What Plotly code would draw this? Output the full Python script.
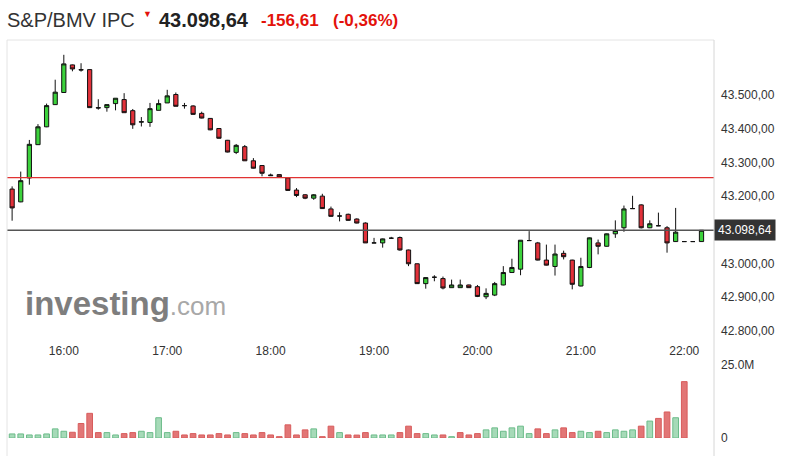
import plotly.graph_objects as go

DAY = "2024-01-15"
times = [
    "15:30", "15:35", "15:40", "15:45", "15:50", "15:55",
    "16:00", "16:05", "16:10", "16:15", "16:20", "16:25", "16:30", "16:35", "16:40", "16:45", "16:50", "16:55",
    "17:00", "17:05", "17:10", "17:15", "17:20", "17:25", "17:30", "17:35", "17:40", "17:45", "17:50", "17:55",
    "18:00", "18:05", "18:10", "18:15", "18:20", "18:25", "18:30", "18:35", "18:40", "18:45", "18:50", "18:55",
    "19:00", "19:05", "19:10", "19:15", "19:20", "19:25", "19:30", "19:35", "19:40", "19:45", "19:50", "19:55",
    "20:00", "20:05", "20:10", "20:15", "20:20", "20:25", "20:30", "20:35", "20:40", "20:45", "20:50", "20:55",
    "21:00", "21:05", "21:10", "21:15", "21:20", "21:25", "21:30", "21:35", "21:40", "21:45", "21:50", "21:55",
    "22:00", "22:05", "22:10",
]

open_ = [43221, 43183, 43254, 43353, 43406, 43472, 43508, 43590, 43576, 43576,
         43463, 43463, 43475, 43487, 43454, 43420, 43419, 43455, 43477, 43502,
         43469, 43468, 43446, 43431, 43401, 43366, 43330, 43347, 43305, 43291,
         43263, 43264, 43254, 43218, 43204, 43194, 43200, 43162, 43141, 43146,
         43132, 43120, 43061, 43061, 43075, 43077, 43040, 42999, 42940, 42959,
         42955, 42928, 42928, 42936, 42931, 42901, 42906, 42936, 42973, 42983,
         43068, 43061, 43010, 42991, 43030, 43010, 42933, 42988, 43061, 43051,
         43088, 43106, 43163, 43174, 43106, 43112, 43106, 43065, 43065, 43065,
         43065]
high = [43229, 43273, 43367, 43414, 43475, 43546, 43620, 43591, 43595, 43577,
        43488, 43472, 43491, 43506, 43459, 43435, 43477, 43487, 43516, 43508,
        43477, 43470, 43451, 43432, 43402, 43367, 43355, 43352, 43313, 43291,
        43267, 43265, 43256, 43224, 43206, 43206, 43207, 43169, 43152, 43148,
        43134, 43122, 43076, 43074, 43079, 43080, 43041, 43000, 42958, 42965,
        42961, 42952, 42952, 42937, 42936, 42926, 42945, 42992, 43014, 43069,
        43096, 43064, 43056, 43056, 43038, 43011, 43017, 43077, 43071, 43089,
        43128, 43172, 43201, 43176, 43128, 43151, 43111, 43165, 43065, 43065,
        43099]
low = [43127, 43182, 43234, 43352, 43405, 43471, 43507, 43571, 43570, 43463,
       43457, 43451, 43455, 43448, 43400, 43407, 43406, 43455, 43477, 43467,
       43460, 43442, 43431, 43396, 43371, 43330, 43325, 43305, 43282, 43259,
       43260, 43257, 43216, 43197, 43191, 43189, 43162, 43139, 43125, 43127,
       43119, 43061, 43061, 43047, 43073, 43038, 42992, 42939, 42925, 42947,
       42923, 42928, 42928, 42927, 42900, 42894, 42903, 42935, 42972, 42965,
       43068, 43009, 42994, 42964, 43012, 42923, 42932, 42986, 43027, 43050,
       43076, 43094, 43162, 43104, 43105, 43111, 43032, 43064, 43065, 43065,
       43065]
close = [43165, 43246, 43354, 43406, 43469, 43509, 43593, 43578, 43575, 43463,
         43462, 43472, 43491, 43448, 43412, 43421, 43460, 43475, 43498, 43467,
         43469, 43443, 43432, 43397, 43372, 43331, 43351, 43305, 43283, 43268,
         43261, 43257, 43217, 43202, 43194, 43204, 43163, 43140, 43141, 43128,
         43120, 43061, 43061, 43073, 43075, 43040, 42999, 42940, 42958, 42959,
         42927, 42936, 42936, 42928, 42902, 42911, 42940, 42973, 42988, 43069,
         43068, 43010, 42995, 43028, 43020, 42938, 42991, 43076, 43051, 43088,
         43098, 43162, 43163, 43106, 43118, 43112, 43061, 43093, 43065, 43065,
         43098.64]

# volume in millions (first 79 intervals)
volume_m = [1.39, 1.39, 1.04, 1.04, 1.39, 3.12, 2.31, 1.97, 4.97, 8.45,
            1.85, 1.85, 1.04, 1.50, 1.85, 2.31, 1.85, 6.94, 1.85, 2.31,
            1.04, 1.50, 1.04, 1.04, 1.50, 1.04, 1.85, 1.50, 1.04, 1.85,
            1.04, 0.46, 4.51, 1.04, 2.78, 3.12, 0.46, 4.05, 1.85, 1.04,
            1.00, 1.85, 1.04, 1.04, 1.04, 1.85, 4.05, 1.50, 1.50, 1.04,
            1.04, 0.46, 1.85, 1.04, 1.50, 2.78, 3.47, 2.31, 3.47, 4.05,
            1.50, 3.12, 1.50, 2.78, 3.47, 1.85, 2.31, 1.85, 2.31, 1.85,
            2.78, 2.31, 2.78, 4.05, 5.79, 6.71, 8.91, 6.94, 19.3]
volume_up = [1, 1, 1, 1, 1, 1, 1, 0, 0, 0,
             0, 1, 1, 0, 0, 1, 1, 1, 1, 0,
             0, 0, 0, 0, 0, 0, 1, 0, 0, 0,
             0, 0, 0, 0, 0, 1, 0, 0, 1, 0,
             0, 0, 1, 1, 1, 0, 0, 0, 1, 1,
             0, 1, 0, 0, 0, 1, 1, 1, 1, 1,
             1, 0, 0, 1, 0, 0, 1, 1, 0, 1,
             1, 1, 1, 0, 1, 0, 0, 1, 0]

price_ticks = [42800, 42900, 43000, 43200, 43300, 43400, 43500]
prev_close = 43255.25
last_price = 43098.64
title_name = "S&P/BMV IPC"
title_price = "43.098,64"
title_change = "-156,61"
title_pct = "(-0,36%)"

x = [f"{DAY} {t}" for t in times]
vol_x = x[:len(volume_m)]
vol_y = [v * 1e6 for v in volume_m]

W, H = 792, 456
L, R, T, B = 7, 78, 40, 18
PW, PH = W - L - R, H - T - B


def px_x(p):
    return (p - L) / PW


def px_y(p):
    return (H - B - p) / PH


FONT = "Arial, Liberation Sans, sans-serif"
GREEN = "#3cd23c"
RED = "#e2313a"

fig = go.Figure()
fig.add_trace(go.Candlestick(
    x=x, open=open_, high=high, low=low, close=close,
    increasing=dict(fillcolor=GREEN, line=dict(color="#111", width=1)),
    decreasing=dict(fillcolor=RED, line=dict(color="#111", width=1)),
    whiskerwidth=0, xaxis="x", yaxis="y", hoverinfo="skip",
))
fig.add_trace(go.Bar(
    x=vol_x, y=vol_y, xaxis="x", yaxis="y2",
    marker=dict(
        color=["#a6dab8" if u else "#e27676" for u in volume_up],
        line=dict(color=["#6cbc8a" if u else "#d85c5c" for u in volume_up], width=1),
    ),
    hoverinfo="skip",
))

shapes = [
    dict(type="line", xref="paper", yref="y", x0=0, x1=1, y0=prev_close, y1=prev_close,
         line=dict(color="rgb(225,50,50)", width=1.2)),
    dict(type="line", xref="paper", yref="y", x0=0, x1=1, y0=last_price, y1=last_price,
         line=dict(color="#555", width=1.5)),
    dict(type="line", xref="paper", yref="paper", x0=0, x1=0, y0=px_y(456), y1=1,
         line=dict(color="#e4e4e4", width=1)),
    dict(type="line", xref="paper", yref="paper", x0=0, x1=1, y0=1, y1=1,
         line=dict(color="#e4e4e4", width=1)),
    dict(type="line", xref="paper", yref="paper", x0=1, x1=1, y0=px_y(456), y1=1,
         line=dict(color="#d6d6d6", width=1)),
]

annotations = [
    dict(xref="paper", yref="paper", x=px_x(5), y=px_y(20), xanchor="left", yanchor="middle",
         text=title_name, showarrow=False, font=dict(family=FONT, size=20, color="#333")),
    dict(xref="paper", yref="paper", x=px_x(141), y=px_y(14), xanchor="left", yanchor="middle",
         text="▼", showarrow=False, font=dict(family=FONT, size=9, color="#e3120b")),
    dict(xref="paper", yref="paper", x=px_x(157), y=px_y(20), xanchor="left", yanchor="middle",
         text=f"<b>{title_price}</b>", showarrow=False, font=dict(family=FONT, size=20, color="#222")),
    dict(xref="paper", yref="paper", x=px_x(259), y=px_y(20), xanchor="left", yanchor="middle",
         text=f"<b>{title_change}</b>", showarrow=False, font=dict(family=FONT, size=17, color="#e3120b")),
    dict(xref="paper", yref="paper", x=px_x(331), y=px_y(20), xanchor="left", yanchor="middle",
         text=f"<b>{title_pct}</b>", showarrow=False, font=dict(family=FONT, size=17, color="#e3120b")),
    dict(xref="paper", yref="paper", x=px_x(23), y=px_y(303), xanchor="left", yanchor="middle",
         text='<b>investing</b><span style="font-size:26px;color:#a8a8a8">.com</span>',
         showarrow=False, font=dict(family=FONT, size=33, color="#7e7e7e")),
    dict(xref="paper", yref="y", x=1, y=last_price, xanchor="left", yanchor="middle",
         text=title_price, showarrow=False, bgcolor="#333", borderpad=3,
         font=dict(family=FONT, size=12, color="#fff")),
]

fig.update_layout(
    width=W, height=H,
    margin=dict(l=L, r=R, t=T, b=B, pad=0),
    paper_bgcolor="white", plot_bgcolor="white",
    showlegend=False,
    separators=",.",
    bargap=0.34,
    boxgap=0.3,
    hovermode=False,
    font=dict(family=FONT, size=12, color="#333"),
    xaxis=dict(
        type="date", domain=[0, 1], anchor="y",
        range=[f"{DAY} 15:27:02", f"{DAY} 22:17:15"],
        tickformat="%H:%M", dtick=3600000, tick0=f"{DAY} 16:00",
        showgrid=False, zeroline=False, showline=False, ticks="",
        ticklabelstandoff=2,
        rangeslider=dict(visible=False),
        tickfont=dict(family=FONT, size=12, color="#333"),
    ),
    yaxis=dict(
        domain=[px_y(340), 1], anchor="x", side="right",
        range=[42772.5, 43664],
        tickvals=price_ticks, tickformat=",.2f",
        showgrid=False, zeroline=False, showline=False, ticks="",
        ticklabelstandoff=6,
        tickfont=dict(family=FONT, size=12, color="#333"),
    ),
    yaxis2=dict(
        domain=[0, px_y(365)], anchor="x", side="right",
        range=[0, 25e6],
        tickvals=[0, 25e6], ticktext=["0", "25.0M"],
        showgrid=False, zeroline=False, showline=False, ticks="",
        ticklabelstandoff=6,
        tickfont=dict(family=FONT, size=12, color="#333"),
    ),
    shapes=shapes,
    annotations=annotations,
)

fig.write_html(
    "out.html",
    config={"displayModeBar": False, "staticPlot": True},
    post_script="document.body.style.margin='0';document.body.style.overflow='hidden';",
)
